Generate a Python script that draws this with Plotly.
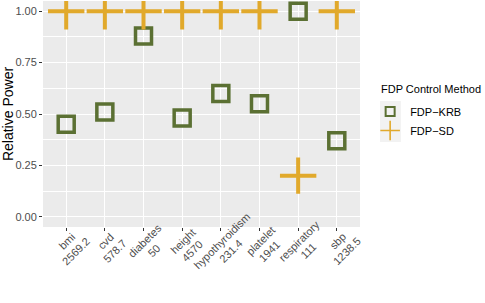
import plotly.graph_objects as go

category_names = ["bmi", "cvd", "diabetes", "height", "hypothyroidism", "platelet", "respiratory", "sbp"]
category_sizes = ["2569.2", "578.7", "50", "4570", "231.4", "1941", "111", "1238.5"]
krb_values = [0.45, 0.51, 0.88, 0.48, 0.60, 0.55, 1.00, 0.37]
sd_values = [1.00, 1.00, 1.00, 1.00, 1.00, 1.00, 0.20, 1.00]
y_ticks = [0.00, 0.25, 0.50, 0.75, 1.00]
y_tick_labels = ["0.00", "0.25", "0.50", "0.75", "1.00"]

KRB_COLOR = "#5B7033"
SD_COLOR = "#E1A92B"
TICK_COLOR = "#4D4D4D"

xpos = list(range(1, len(category_names) + 1))

fig = go.Figure()
fig.add_trace(go.Scatter(
    x=xpos, y=krb_values, mode="markers", name="FDP\u2212KRB", showlegend=False,
    marker=dict(symbol="square-open", size=16, color=KRB_COLOR,
                line=dict(width=3.5, color=KRB_COLOR)),
))
fig.add_trace(go.Scatter(
    x=xpos, y=sd_values, mode="markers", name="FDP\u2212SD", showlegend=False,
    marker=dict(symbol="cross-thin-open", size=26, color=SD_COLOR,
                line=dict(width=4, color=SD_COLOR)),
))
# legend entries (smaller keys, as in ggplot)
fig.add_trace(go.Scatter(
    x=[None], y=[None], mode="markers", name="FDP\u2212KRB",
    marker=dict(symbol="square-open", size=9, color=KRB_COLOR,
                line=dict(width=2, color=KRB_COLOR)),
))
fig.add_trace(go.Scatter(
    x=[None], y=[None], mode="markers", name="FDP\u2212SD",
    marker=dict(symbol="cross-thin-open", size=14, color=SD_COLOR,
                line=dict(width=1.6, color=SD_COLOR)),
))

# rotated, centred two-line category labels (ggplot angle=45 style)
for xp, name, size in zip(xpos, category_names, category_sizes):
    fig.add_annotation(
        x=xp, xref="x", y=0, yref="paper", text=name, showarrow=False,
        textangle=-45, xanchor="center", yanchor="middle",
        xshift=1, yshift=-14, borderpad=0,
        font=dict(size=11, color=TICK_COLOR),
    )
    fig.add_annotation(
        x=xp, xref="x", y=0, yref="paper", text=size, showarrow=False,
        textangle=-45, xanchor="center", yanchor="middle",
        xshift=10, yshift=-24, borderpad=0,
        font=dict(size=11, color=TICK_COLOR),
    )

# legend title
fig.add_annotation(
    x=1.063, xref="paper", y=0.58, yref="paper", text="FDP Control Method",
    showarrow=False, xanchor="left", yanchor="bottom", borderpad=0,
    font=dict(size=11, color="black"),
)
# legend key background
fig.add_shape(type="rect", xref="paper", yref="paper",
              x0=1.063, x1=1.129, y0=0.376, y1=0.558,
              fillcolor="#F2F2F2", line=dict(width=0), layer="below")

fig.update_layout(
    width=485, height=303,
    margin=dict(l=43, r=125, t=1, b=76, autoexpand=False),
    paper_bgcolor="white",
    plot_bgcolor="#EBEBEB",
    font=dict(family="Liberation Sans, Arial, sans-serif", color=TICK_COLOR, size=11),
    showlegend=True,
    legend=dict(
        x=1.032, xanchor="left", y=0.575, yanchor="top",
        font=dict(size=11, color="black"),
        bgcolor="rgba(0,0,0,0)",
        itemsizing="trace", itemwidth=30,
        tracegroupgap=2,
    ),
    xaxis=dict(
        range=[0.4, 8.6],
        tickmode="array", tickvals=xpos, showticklabels=False,
        showgrid=True, gridcolor="white", gridwidth=1.1,
        zeroline=False, automargin=False,
        ticks="outside", ticklen=3, tickcolor="#333333", tickwidth=1,
        showline=False,
    ),
    yaxis=dict(
        range=[-0.05, 1.05],
        tickmode="array", tickvals=y_ticks, ticktext=y_tick_labels,
        showgrid=True, gridcolor="white", gridwidth=1.1,
        zeroline=False, automargin=False,
        ticks="outside", ticklen=3, tickcolor="#333333", tickwidth=1,
        tickfont=dict(size=11, color=TICK_COLOR),
        title=dict(text="Relative Power", font=dict(size=14, color="black"), standoff=8),
        minor=dict(tickvals=[0.125, 0.375, 0.625, 0.875], showgrid=True,
                   gridcolor="white", gridwidth=0.5, ticks=""),
        showline=False,
    ),
)

fig.write_html("out.html", config={"displayModeBar": False},
               post_script="document.body.style.margin='0';")
